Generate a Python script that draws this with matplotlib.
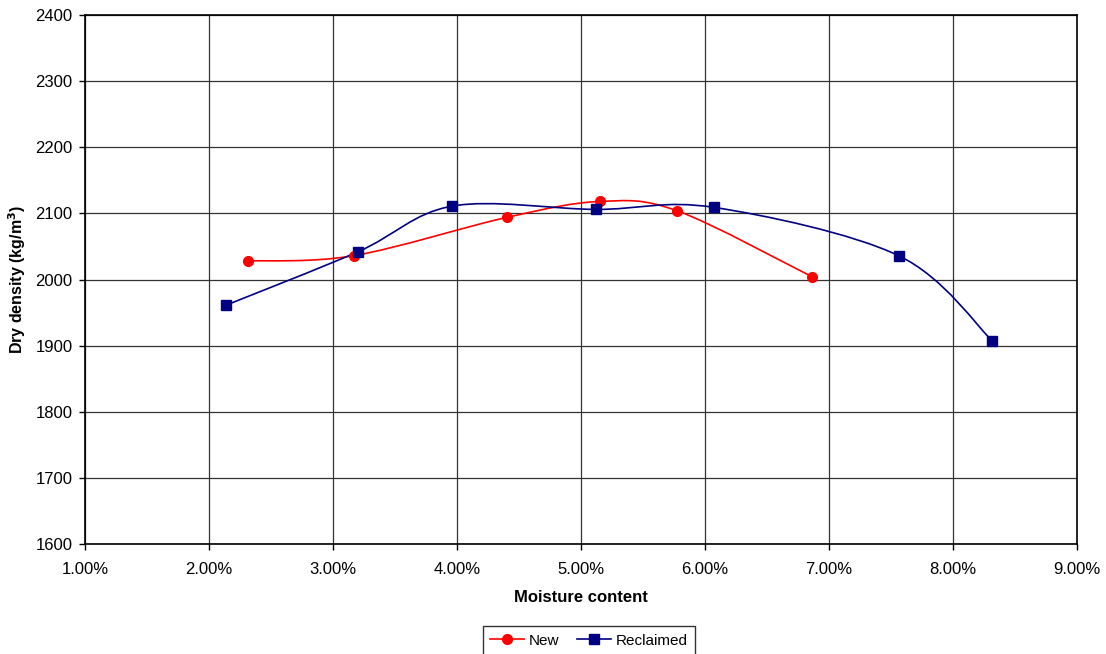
import matplotlib
matplotlib.use("Agg")
import matplotlib.pyplot as plt
from matplotlib.path import Path
from matplotlib.patches import PathPatch
from matplotlib.lines import Line2D
from matplotlib.ticker import FuncFormatter, MultipleLocator

plt.rcParams['font.family'] = ['Liberation Sans', 'DejaVu Sans']

# moisture content (fraction) and dry density (kg/m3)
new_x = [0.02312, 0.03167, 0.04403, 0.05153, 0.05774, 0.06865]
new_y = [2028, 2036, 2094, 2118, 2104, 2004]
recl_x = [0.02135, 0.03202, 0.03962, 0.05119, 0.06075, 0.07562, 0.08318]
recl_y = [1961, 2042, 2111, 2106, 2109, 2036, 1907]


def smooth_path(xs, ys):
    # excel-like smoothed line: bezier through every point
    pts = list(zip(xs, ys))
    n = len(pts)
    verts = [pts[0]]
    codes = [Path.MOVETO]
    for i in range(n - 1):
        p0 = pts[i - 1] if i > 0 else pts[i]
        p1 = pts[i]
        p2 = pts[i + 1]
        p3 = pts[i + 2] if i + 2 < n else pts[i + 1]
        c1 = (p1[0] + (p2[0] - p0[0]) / 6, p1[1] + (p2[1] - p0[1]) / 6)
        c2 = (p2[0] - (p3[0] - p1[0]) / 6, p2[1] - (p3[1] - p1[1]) / 6)
        verts += [c1, c2, p2]
        codes += [Path.CURVE4] * 3
    return Path(verts, codes)


fig = plt.figure(figsize=(11.06, 6.54), dpi=100)
ax = fig.add_axes([85 / 1106, 1 - 544 / 654, 992 / 1106, 529 / 654])

ax.add_patch(PathPatch(smooth_path(new_x, new_y), facecolor='none',
                       edgecolor='#ff0000', lw=1.2, zorder=3))
ax.add_patch(PathPatch(smooth_path(recl_x, recl_y), facecolor='none',
                       edgecolor='#000080', lw=1.2, zorder=3))
ax.plot(new_x, new_y, ls='none', marker='o', ms=7, color='#ff0000',
        mec='#ff0000', zorder=4)
ax.plot(recl_x, recl_y, ls='none', marker='s', ms=6.5, color='#000080',
        mec='#000080', zorder=4)

ax.set_xlim(0.01, 0.09)
ax.set_ylim(1600, 2400)
ax.xaxis.set_major_locator(MultipleLocator(0.01))
ax.yaxis.set_major_locator(MultipleLocator(100))
ax.xaxis.set_major_formatter(FuncFormatter(lambda v, p: '{:.2%}'.format(v)))
ax.grid(True, color='#333333', lw=0.9)
ax.set_axisbelow(True)
for s in ax.spines.values():
    s.set_color('black')
    s.set_linewidth(1.2)
ax.tick_params(direction='out', length=4, width=1, labelsize=12, colors='black')
ax.tick_params(axis='x', pad=9)
ax.tick_params(axis='y', pad=5)

ax.set_xlabel('Moisture content', fontsize=12, fontweight='bold', labelpad=9)
ax.set_ylabel('Dry density (kg/m$^\\mathbf{3}$)', fontsize=11.5, fontweight='bold')
ax.yaxis.set_label_coords(-57 / 992, 0.5)

handles = [Line2D([], [], color='#ff0000', marker='o', ms=7, lw=1.2),
           Line2D([], [], color='#000080', marker='s', ms=6.5, lw=1.2)]
leg = fig.legend(handles, ['New', 'Reclaimed'], loc='upper center',
                 bbox_to_anchor=(589 / 1106, 1 - 626 / 654), ncol=2,
                 fontsize=11, frameon=True, fancybox=False, borderaxespad=0,
                 handlelength=2.2, columnspacing=1.2, handletextpad=0.3,
                 borderpad=0.5)
leg.get_frame().set_edgecolor('black')
leg.get_frame().set_linewidth(1)

fig.savefig('out.png', dpi=100, facecolor='white')
